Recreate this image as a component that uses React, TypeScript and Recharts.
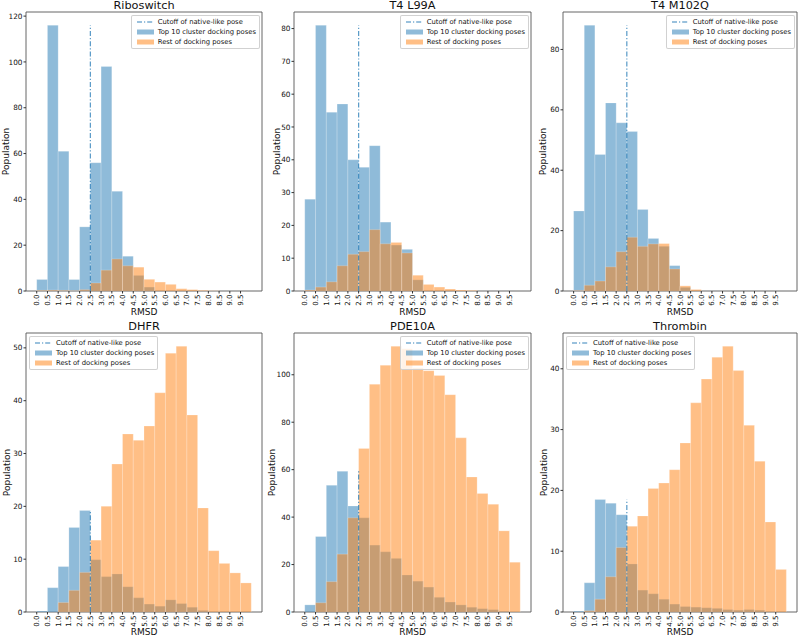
import React from 'react';
import { ComposedChart, Bar, XAxis, YAxis, ReferenceLine, ReferenceArea } from 'recharts';

// ---------- data ----------
const BIN_LEFT = [0.0, 0.5, 1.0, 1.5, 2.0, 2.5, 3.0, 3.5, 4.0, 4.5, 5.0, 5.5, 6.0, 6.5, 7.0, 7.5, 8.0, 8.5, 9.0, 9.5];
const X_TICKS = [0.0, 0.5, 1.0, 1.5, 2.0, 2.5, 3.0, 3.5, 4.0, 4.5, 5.0, 5.5, 6.0, 6.5, 7.0, 7.5, 8.0, 8.5, 9.0, 9.5];
const BIN_WIDTH = 0.5;
const CUTOFF = 2.5;

const RIBO_TOP10 = [5, 116, 61, 5, 28, 56, 98, 43.5, 15.2, 6.8, 1.7, 0, 0, 0, 0, 0, 0, 0, 0, 0];
const RIBO_REST = [0.3, 0.4, 0.3, 0.2, 0.6, 3.5, 9.1, 14, 11, 10.4, 5.1, 3.9, 2.9, 1.0, 0.6, 0.3, 0.1, 0, 0, 0];
const RIBO_YTICKS = [0, 20, 40, 60, 80, 100, 120];

const L99A_TOP10 = [28, 81, 54.5, 57, 40, 37.7, 44.3, 21, 14, 12.7, 3.4, 0, 0, 0, 0, 0, 0, 0, 0, 0];
const L99A_REST = [0.3, 1.2, 2.8, 7.7, 11.2, 12, 18.7, 14.4, 14.8, 11.6, 4.8, 2.0, 1.2, 0.6, 0.3, 0.2, 0, 0, 0, 0];
const L99A_YTICKS = [0, 10, 20, 30, 40, 50, 60, 70, 80];

const M102Q_TOP10 = [26.5, 88, 45.2, 62.3, 55.7, 52.8, 27, 17.4, 14.8, 8.4, 1.2, 0, 0, 0, 0, 0, 0, 0, 0, 0];
const M102Q_REST = [0.2, 1.9, 3.3, 8, 13, 17.8, 14.8, 15.6, 15.7, 7.3, 1.7, 0.5, 0, 0, 0, 0, 0, 0, 0, 0];
const M102Q_YTICKS = [0, 20, 40, 60, 80];

const DHFR_TOP10 = [0.2, 4.6, 8.6, 16, 19.2, 9.9, 6.7, 7.2, 4.8, 2.7, 1.5, 1.1, 2.3, 1.6, 0.9, 0.3, 0, 0, 0, 0];
const DHFR_REST = [0, 0, 1.8, 4.1, 7.5, 13.6, 20, 28, 33.7, 32.5, 35.2, 41.5, 49, 50.3, 37.3, 19.7, 11.6, 9.2, 7.4, 5.5];
const DHFR_YTICKS = [0, 10, 20, 30, 40, 50];

const PDE_TOP10 = [3, 31.8, 53.4, 59.3, 44.7, 39.7, 28.2, 25.4, 22.6, 15.6, 13, 10.5, 6.2, 4.2, 3, 2, 1.4, 1, 0.4, 0.1];
const PDE_REST = [0, 3.9, 12.8, 24.4, 39.7, 68.9, 96, 104, 112, 111, 103, 101.7, 99.7, 91.6, 73.4, 56.9, 50, 45.4, 34.2, 21];
const PDE_YTICKS = [0, 20, 40, 60, 80, 100];

const THR_TOP10 = [0.15, 4.8, 18.5, 17.9, 16, 7.9, 3.6, 3, 2.1, 1.3, 0.9, 0.8, 0.7, 0.6, 0.4, 0.3, 0.4, 0.3, 0.1, 0];
const THR_REST = [0, 0.2, 2.1, 5.8, 10.6, 14.1, 15.8, 20.3, 21.2, 23.4, 27.8, 34.4, 38.3, 41.9, 43.7, 39.7, 30.7, 24.8, 14.8, 7];
const THR_YTICKS = [0, 10, 20, 30, 40];

const LEGEND_LABELS = ['Cutoff of native-like pose', 'Top 10 cluster docking poses', 'Rest of docking poses'];

// ---------- styling / layout ----------
const BLUE = '#1f77b4';
const ORANGE = '#ff7f0e';
const FONT = "'DejaVu Sans', sans-serif";
const TEXT = '#111';
const X_DOMAIN: [number, number] = [-0.5, 10.5];
const DASHDOT = '5 2 1.2 2';

const COLS = [
  { l: 26, r: 262 },
  { l: 294, r: 531 },
  { l: 563, r: 797 },
];
const ROWS = [
  { t: 12, b: 291, xlab: 24 },
  { t: 333, b: 612, xlab: 22.5 },
];

type PanelSpec = {
  title: string;
  top10: number[];
  rest: number[];
  yTicks: number[];
  legend: 'left' | 'right';
  col: number;
  row: number;
  ylabGap: number;
};

const PANELS: PanelSpec[] = [
  { title: 'Riboswitch', top10: RIBO_TOP10, rest: RIBO_REST, yTicks: RIBO_YTICKS, legend: 'right', col: 0, row: 0, ylabGap: 20 },
  { title: 'T4 L99A', top10: L99A_TOP10, rest: L99A_REST, yTicks: L99A_YTICKS, legend: 'right', col: 1, row: 0, ylabGap: 17 },
  { title: 'T4 M102Q', top10: M102Q_TOP10, rest: M102Q_REST, yTicks: M102Q_YTICKS, legend: 'right', col: 2, row: 0, ylabGap: 20 },
  { title: 'DHFR', top10: DHFR_TOP10, rest: DHFR_REST, yTicks: DHFR_YTICKS, legend: 'left', col: 0, row: 1, ylabGap: 19 },
  { title: 'PDE10A', top10: PDE_TOP10, rest: PDE_REST, yTicks: PDE_YTICKS, legend: 'right', col: 1, row: 1, ylabGap: 22 },
  { title: 'Thrombin', top10: THR_TOP10, rest: THR_REST, yTicks: THR_YTICKS, legend: 'left', col: 2, row: 1, ylabGap: 19 },
];

const XTick = (props: any) => {
  const { x, y, payload } = props;
  return (
    <g transform={`translate(${x},${y})`}>
      <text transform="rotate(-90)" x={0} y={0} dy="0.36em" textAnchor="end" fontSize={7.1} fill={TEXT} fontFamily={FONT}>
        {Number(payload.value).toFixed(1)}
      </text>
    </g>
  );
};

const LegendBox = ({ side, l, r, t }: { side: 'left' | 'right'; l: number; r: number; t: number }) => {
  const pos: React.CSSProperties = side === 'left' ? { left: l + 3 } : { right: 800 - r + 2 };
  const handles = [
    <line key="h0" x1={0} y1={5} x2={17} y2={5} stroke={BLUE} strokeOpacity={0.6} strokeWidth={1.3} strokeDasharray={DASHDOT} />,
    <rect key="h1" x={0} y={2.5} width={17} height={5} fill={BLUE} fillOpacity={0.5} />,
    <rect key="h2" x={0} y={2.5} width={17} height={5} fill={ORANGE} fillOpacity={0.5} />,
  ];
  return (
    <div
      style={{
        position: 'absolute',
        top: t + 3,
        ...pos,
        border: '1px solid rgba(204,204,204,0.9)',
        borderRadius: 2,
        background: 'rgba(255,255,255,0.8)',
        padding: '1px 3px 1px 5px',
        fontFamily: FONT,
        fontSize: 6.8,
        lineHeight: '10px',
        color: TEXT,
        whiteSpace: 'nowrap',
      }}
    >
      {LEGEND_LABELS.map((lab, i) => (
        <div key={lab} style={{ display: 'flex', alignItems: 'center', height: 10 }}>
          <svg width={17} height={10} style={{ marginRight: 4, display: 'block' }}>
            {handles[i]}
          </svg>
          <span>{lab}</span>
        </div>
      ))}
    </div>
  );
};

const YW = 30;
const MT = 4;
const MR = 4;
const XH = 30;

const Histogram = ({ p }: { p: PanelSpec }) => {
  const { l, r } = COLS[p.col];
  const { t, b } = ROWS[p.row];
  const plotW = r - l;
  const plotH = b - t;
  const data = BIN_LEFT.map((x0, i) => ({ x: x0 + BIN_WIDTH / 2, top10: p.top10[i], rest: p.rest[i] }));
  const yMax = Math.max(...p.top10, ...p.rest) * 1.05;
  const maxTop = Math.max(...p.top10);
  // slightly below the band size so the library keeps the exact width (no 90% shrink)
  const barPx = (plotW * BIN_WIDTH) / (X_DOMAIN[1] - X_DOMAIN[0]) - 0.02;
  return (
    <div style={{ position: 'absolute', left: l - YW, top: t - MT }}>
      <ComposedChart
        width={plotW + YW + MR}
        height={plotH + MT + XH}
        data={data}
        margin={{ top: MT, right: MR, bottom: 0, left: 0 }}
        barGap={0}
        barCategoryGap={0}
      >
        <XAxis
          xAxisId="a"
          dataKey="x"
          type="number"
          domain={X_DOMAIN}
          ticks={X_TICKS}
          interval={0}
          allowDataOverflow
          height={XH}
          axisLine={false}
          tickSize={2.5}
          tickMargin={1}
          tickLine={{ stroke: '#333' }}
          tick={(tp: any) => <XTick {...tp} />}
        />
        <XAxis xAxisId="b" dataKey="x" type="number" domain={X_DOMAIN} allowDataOverflow hide />
        <YAxis
          type="number"
          domain={[0, yMax]}
          ticks={p.yTicks}
          interval={0}
          allowDataOverflow
          width={YW}
          axisLine={false}
          tickSize={2.5}
          tickMargin={1}
          tickLine={{ stroke: '#333' }}
          tick={{ fontSize: 7.3, fill: TEXT, fontFamily: FONT }}
        />
        <Bar
          xAxisId="a"
          dataKey="top10"
          name={LEGEND_LABELS[1]}
          fill={BLUE}
          fillOpacity={0.5}
          stroke="#ffffff"
          strokeOpacity={0.3}
          strokeWidth={0.7}
          barSize={barPx}
          isAnimationActive={false}
        />
        <Bar
          xAxisId="b"
          dataKey="rest"
          name={LEGEND_LABELS[2]}
          fill={ORANGE}
          fillOpacity={0.5}
          stroke="#ffffff"
          strokeOpacity={0.3}
          strokeWidth={0.7}
          barSize={barPx}
          isAnimationActive={false}
        />
        <ReferenceLine
          xAxisId="a"
          segment={[{ x: CUTOFF, y: 0 }, { x: CUTOFF, y: maxTop }]}
          stroke={BLUE}
          strokeOpacity={0.75}
          strokeWidth={1.2}
          strokeDasharray={DASHDOT}
          ifOverflow="visible"
        />
        <ReferenceArea
          xAxisId="a"
          x1={X_DOMAIN[0]}
          x2={X_DOMAIN[1]}
          y1={0}
          y2={yMax}
          fill="none"
          fillOpacity={0}
          stroke="#555"
          strokeWidth={0.9}
          ifOverflow="visible"
        />
      </ComposedChart>
    </div>
  );
};

export default function App() {
  return (
    <div style={{ position: 'fixed', left: 0, top: 0, width: 800, height: 635, background: '#fff', overflow: 'hidden' }}>
      {PANELS.map((p) => (
        <Histogram key={p.title} p={p} />
      ))}
      {PANELS.map((p) => {
        const { l, r } = COLS[p.col];
        const { t } = ROWS[p.row];
        return <LegendBox key={p.title + 'lg'} side={p.legend} l={l} r={r} t={t} />;
      })}
      <svg width={800} height={635} style={{ position: 'absolute', left: 0, top: 0, pointerEvents: 'none' }}>
        {PANELS.map((p) => {
          const { l, r } = COLS[p.col];
          const { t, b, xlab } = ROWS[p.row];
          const cx = (l + r) / 2;
          const cy = (t + b) / 2;
          const lx = l - p.ylabGap;
          return (
            <g key={p.title + 'txt'} fontFamily={FONT} fill={TEXT}>
              <text x={cx} y={t - 3.5} textAnchor="middle" fontSize={11.3}>
                {p.title}
              </text>
              <text x={cx} y={b + xlab} textAnchor="middle" fontSize={9}>
                RMSD
              </text>
              <text transform={`translate(${lx},${cy}) rotate(-90)`} x={0} y={0} dy="0.36em" textAnchor="middle" fontSize={9}>
                Population
              </text>
            </g>
          );
        })}
      </svg>
    </div>
  );
}
